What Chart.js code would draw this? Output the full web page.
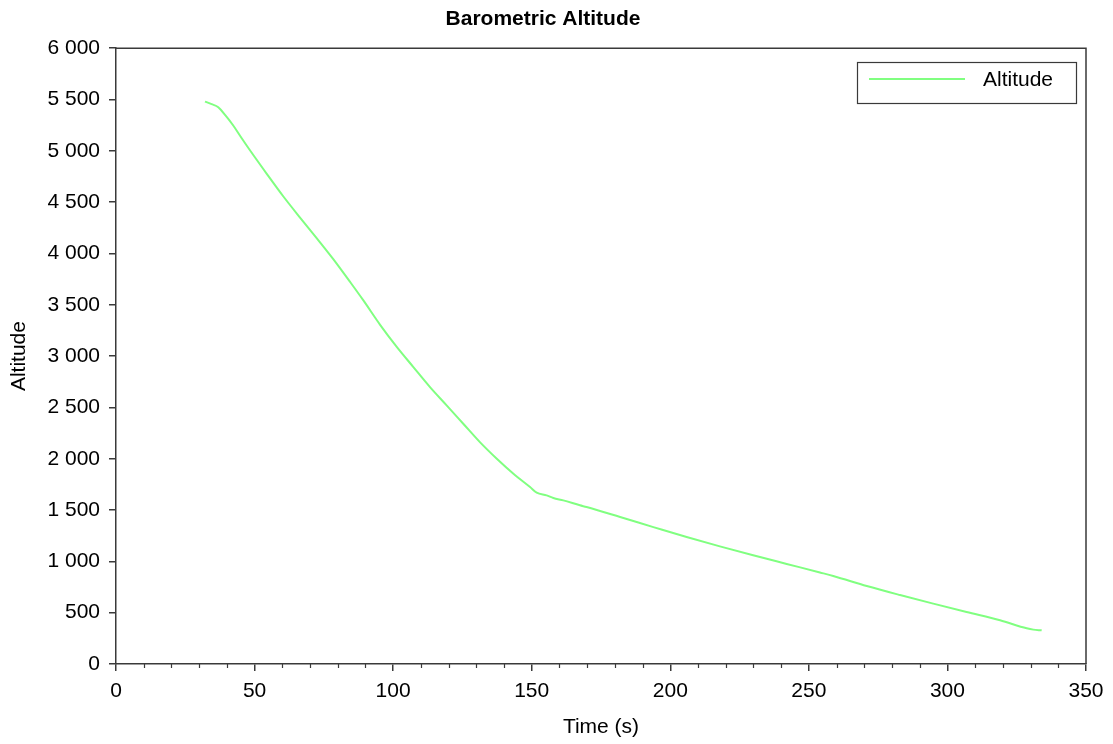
<!DOCTYPE html>
<html>
<head>
<meta charset="utf-8">
<script src="https://cdn.jsdelivr.net/npm/chart.js@4"></script>
<style>
  html, body { margin: 0; padding: 0; background: #fff; }
  #wrap { width: 1113px; height: 744px; }
</style>
</head>
<body>
<div id="wrap"><canvas id="grafico"></canvas></div>
<script>
// tiempo (s) y altitud
var tiempo = [32.1, 34.5, 36.9, 39.5, 42.3, 45.3, 48.4, 54.4, 60.4, 66.4, 72.4, 78.4, 84.4, 89.2,
  95.3, 101.3, 107.3, 113.3, 119.3, 125.3, 131.3, 137.4, 143.4, 149.4, 151.8, 155.4, 157.8, 161.4,
  167.4, 169.8, 181.9, 193.9, 205.9, 217.9, 229.9, 242, 254, 258.8, 270.9, 282.9, 294.9, 306.9,
  319, 328.6, 331, 334];
var altitud = [5480, 5455, 5425, 5345, 5247, 5125, 5003, 4776, 4555, 4350, 4150, 3945, 3725, 3545,
  3305, 3090, 2893, 2698, 2520, 2341, 2162, 2000, 1854, 1724, 1669, 1643, 1617, 1594,
  1546, 1529, 1432, 1334, 1237, 1146, 1059, 975, 892, 858, 760, 672, 588, 506,
  426, 348, 335, 328];
var serieNombre = "Altitude";
var tituloGrafico = "Barometric Altitude";
var tituloX = "Time (s)";
var tituloY = "Altitude";
var xMin = 0, xMax = 350, xPaso = 50, xPasoMenor = 10;
var yMin = 0, yMax = 6000, yPaso = 500;

var colorLinea = "#80ff80";
var colorEje = "#3a3a3a";
var fuente = "'Liberation Sans', Arial, sans-serif";

function conEspacios(v) {
  return String(v).replace(/\B(?=(\d{3})+(?!\d))/g, " ");
}

var puntos = tiempo.map(function (t, i) { return { x: t, y: altitud[i] }; });

// marco, marcas menores y leyenda
var marcoPlugin = {
  id: "marco",
  afterDraw: function (chart) {
    var ctx = chart.ctx;
    var a = chart.chartArea;
    var xs = chart.scales.x;
    ctx.save();
    ctx.strokeStyle = colorEje;
    ctx.lineWidth = 1.5;
    ctx.beginPath();
    ctx.moveTo(a.left, a.top);
    ctx.lineTo(a.right, a.top);
    ctx.lineTo(a.right, a.bottom);
    ctx.stroke();
    // marcas menores en x
    ctx.lineWidth = 1.2;
    ctx.beginPath();
    for (var v = xMin; v <= xMax; v += xPasoMenor) {
      if (v % xPaso === 0) continue;
      var px = Math.round(xs.getPixelForValue(v)) + 0.5;
      ctx.moveTo(px, a.bottom);
      ctx.lineTo(px, a.bottom + 4);
    }
    ctx.stroke();
    // leyenda
    var bx = 857, by = 62, bw = 219, bh = 41;
    ctx.fillStyle = "#fff";
    ctx.fillRect(bx, by, bw, bh);
    ctx.lineWidth = 1.2;
    ctx.strokeStyle = colorEje;
    ctx.strokeRect(bx + 0.5, by + 0.5, bw, bh);
    ctx.strokeStyle = colorLinea;
    ctx.lineWidth = 2;
    ctx.beginPath();
    ctx.moveTo(bx + 12, by + 17);
    ctx.lineTo(bx + 108, by + 17);
    ctx.stroke();
    ctx.fillStyle = "#000";
    ctx.font = "21px " + fuente;
    ctx.textBaseline = "middle";
    ctx.textAlign = "left";
    ctx.fillText(serieNombre, bx + 126, by + 18);
    ctx.restore();
  }
};

document.addEventListener("DOMContentLoaded", function () {
  var ctx = document.getElementById("grafico").getContext("2d");
  new Chart(ctx, {
    type: "line",
    data: {
      datasets: [
        {
          label: serieNombre,
          data: puntos,
          borderColor: colorLinea,
          borderWidth: 2,
          pointRadius: 0,
          cubicInterpolationMode: "monotone",
          fill: false
        }
      ]
    },
    options: {
      responsive: true,
      maintainAspectRatio: false,
      animation: false,
      layout: { padding: { left: 0, right: 27, top: 0, bottom: 0 } },
      scales: {
        x: {
          type: "linear",
          min: xMin,
          max: xMax,
          afterFit: function (s) { s.height = 80; },
          ticks: {
            stepSize: xPaso,
            color: "#000",
            padding: 8,
            maxRotation: 0,
            font: { family: fuente, size: 21 }
          },
          grid: { drawOnChartArea: false, drawTicks: true, tickLength: 7, color: colorEje, lineWidth: 1.5 },
          border: { display: true, color: colorEje, width: 1.5 },
          title: {
            display: true,
            text: tituloX,
            color: "#000",
            font: { family: fuente, size: 21 },
            padding: { top: 0, bottom: 4 }
          }
        },
        y: {
          min: yMin,
          max: yMax,
          afterFit: function (s) { s.width = 116; },
          ticks: {
            stepSize: yPaso,
            color: "#000",
            padding: 9,
            font: { family: fuente, size: 21 },
            callback: function (v) { return conEspacios(v); }
          },
          grid: { drawOnChartArea: false, drawTicks: true, tickLength: 7, color: colorEje, lineWidth: 1.5 },
          border: { display: true, color: colorEje, width: 1.5 },
          title: {
            display: true,
            text: tituloY,
            color: "#000",
            font: { family: fuente, size: 21 },
            padding: { top: 7, bottom: 0 }
          }
        }
      },
      plugins: {
        legend: { display: false },
        tooltip: { enabled: false },
        title: {
          display: true,
          text: tituloGrafico,
          color: "#000",
          font: { family: fuente, size: 21, weight: "bold" },
          padding: { top: 7, bottom: 16 }
        }
      }
    },
    plugins: [marcoPlugin]
  });
});
</script>
</body>
</html>
